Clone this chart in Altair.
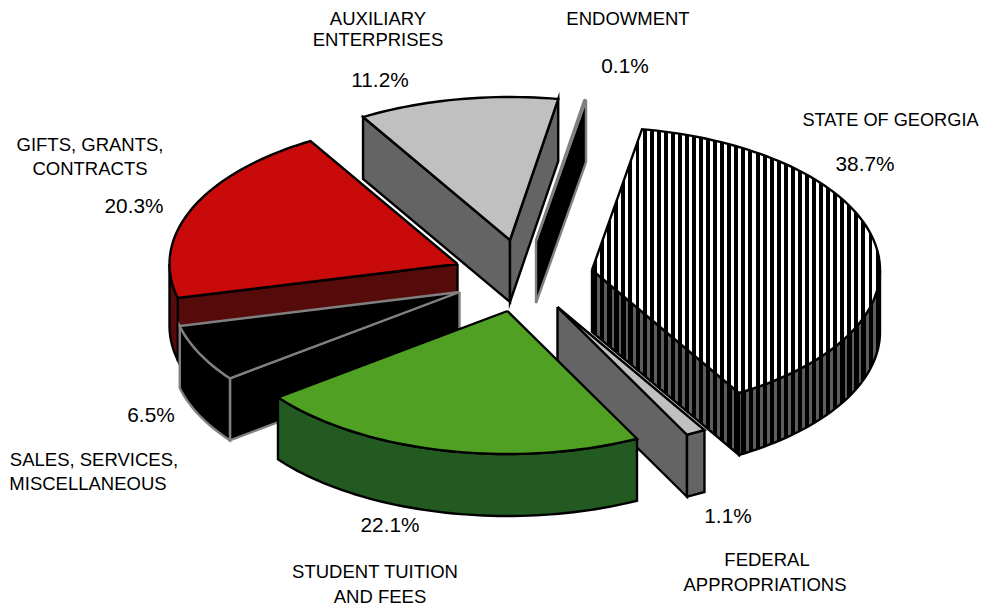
import math
import altair as alt
import pandas as pd

# ---- values ----
categories = ["STATE OF GEORGIA", "FEDERAL APPROPRIATIONS", "STUDENT TUITION AND FEES",
              "SALES, SERVICES, MISCELLANEOUS", "GIFTS, GRANTS, CONTRACTS",
              "AUXILIARY ENTERPRISES", "ENDOWMENT"]
shares = [38.7, 1.1, 22.1, 6.5, 20.3, 11.2, 0.1]
pct_labels = ["38.7%", "1.1%", "22.1%", "6.5%", "20.3%", "11.2%", "0.1%"]
label_lines = [["STATE OF GEORGIA"], ["FEDERAL", "APPROPRIATIONS"], ["STUDENT TUITION", "AND FEES"],
               ["SALES, SERVICES,", "MISCELLANEOUS"], ["GIFTS, GRANTS,", "CONTRACTS"],
               ["AUXILIARY", "ENTERPRISES"], ["ENDOWMENT"]]

# ---- layout (projection of the exploded 3-D pie) ----
W, H = 971, 598
RX, RY, DEPTH = 288, 143, 62
START = -80.0
apex = {0: (592, 270), 1: (557.5, 307), 2: (507.5, 311), 3: (459.5, 292), 4: (457.5, 264), 5: (510, 240), 6: (536, 241)}
HATCH = "hatch"
style = {
    0: dict(top=HATCH, wall="hatchdark", stroke="#000000"),
    1: dict(top="#c0c0c0", wall="#646464", stroke="#000000"),
    2: dict(top="#50a024", wall="#225a22", stroke="#000000"),
    3: dict(top="#000000", wall="#000000", stroke="#808080"),
    4: dict(top="#c80a0a", wall="#560b0b", stroke="#000000"),
    5: dict(top="#c0c0c0", wall="#646464", stroke="#000000"),
    6: dict(top="#000000", wall="#000000", stroke="#808080"),
}
pct_pos = {0: (865, 165), 1: (728, 517), 2: (390, 526), 3: (151, 416), 4: (134, 207), 5: (380, 81), 6: (625, 67)}
line_pos = {0: [(890.5, 121)], 1: [(767, 560), (765, 585)], 2: [(375, 572), (380, 597)],
            3: [(94, 460), (88, 484)], 4: [(90, 145), (90, 169)], 5: [(378, 18.5), (378, 40)], 6: [(628, 19)]}
PERIOD = 7.06
PHASE = 642.6
xscale = alt.Scale(domain=[8, 8 + W], range=[0, W])
yscale = alt.Scale(domain=[8 + H, 8], range=[H, 0])


def stripes(xs, c1, c2, frac):
    x0, x1 = min(xs), max(xs)
    span = max(x1 - x0, 1e-6)
    stops = []
    k = math.floor((x0 - PHASE) / PERIOD)
    while PHASE + k * PERIOD < x1:
        a = PHASE + k * PERIOD
        for pos, col in ((a, c1), (a + PERIOD * frac, c1), (a + PERIOD * frac, c2), (a + PERIOD, c2)):
            off = min(max((pos - x0) / span, 0), 1)
            stops.append(alt.GradientStop(offset=off, color=col))
        k += 1
    return alt.LinearGradient(gradient="linear", x1=0, y1=0, x2=1, y2=0, stops=stops)


def paint(kind, xs):
    if kind == "hatch":
        return stripes(xs, "#000000", "#ffffff", 0.56)
    if kind == "hatchdark":
        return stripes(xs, "#000000", "#5e5e5e", 0.6)
    return kind


def poly(pts, fill, stroke, join="miter", width=2.4):
    pts = list(pts) + [pts[0]]
    df = pd.DataFrame({"x": [p[0] for p in pts], "y": [p[1] for p in pts], "i": range(len(pts))})
    return alt.Chart(df).mark_line(
        fill=paint(fill, [p[0] for p in pts]), stroke=stroke, strokeWidth=width,
        strokeJoin=join, strokeMiterLimit=10,
    ).encode(
        x=alt.X("x:Q", scale=xscale, axis=None),
        y=alt.Y("y:Q", scale=yscale, axis=None),
        order="i:Q",
    )


angles = [START]
for s in shares:
    angles.append(angles[-1] + s / sum(shares) * 360)

layers = []
for idx in [0, 6, 5, 4, 3, 1, 2]:
    t0, t1 = angles[idx], angles[idx + 1]
    ax, ay = apex[idx]
    st = style[idx]
    join = "bevel" if idx == 6 else "miter"
    rim = lambda t: (ax + RX * math.cos(math.radians(t)), ay + RY * math.sin(math.radians(t)))
    down = lambda p: (p[0], p[1] + DEPTH)
    def arc(a, b):
        n = max(int(abs(b - a) / 1.5), 1)
        return [rim(a + (b - a) * j / n) for j in range(n + 1)]
    A = (ax, ay)
    walls = []
    if math.cos(math.radians(t0)) < 0:
        p = rim(t0)
        walls.append([A, p, down(p), down(A)])
    if math.cos(math.radians(t1)) > 0:
        p = rim(t1)
        walls.append([A, p, down(p), down(A)])
    for w in walls:
        layers.append(poly(w, st["wall"], st["stroke"], join))
    # outer wall: part of the rim facing the viewer (0..180 degrees)
    a0, a1 = t0, t1
    if a0 >= 180:
        a0 -= 360
        a1 -= 360
    a, b = max(a0, 0), min(a1, 180)
    if b > a:
        top_arc = arc(a, b)
        layers.append(poly(top_arc + [down(p) for p in reversed(top_arc)], st["wall"], st["stroke"], join))
    layers.append(poly([A] + arc(t0, t1), st["top"], st["stroke"], join))

rows = []
for i in range(len(categories)):
    x, y = pct_pos[i]
    rows.append(dict(x=x, y=y, t=pct_labels[i], k="p"))
    for line, (x, y) in zip(label_lines[i], line_pos[i]):
        rows.append(dict(x=x, y=y, t=line, k="s" if i == 0 else "l"))
tx = pd.DataFrame(rows)
for k, size in (("p", 20.8), ("l", 18.5), ("s", 18.2)):
    layers.append(
        alt.Chart(tx[tx.k == k]).mark_text(font="Liberation Sans", fontSize=size, color="#000000",
                                           align="center", baseline="middle").encode(
            x=alt.X("x:Q", scale=xscale, axis=None),
            y=alt.Y("y:Q", scale=yscale, axis=None),
            text="t:N",
        )
    )

chart = alt.layer(*layers).properties(
    width=W, height=H, padding=0, autosize=alt.AutoSizeParams(type="none"),
    background="#ffffff",
).configure_view(stroke=None)
chart.save("out.html", embed_options={"renderer": "svg", "actions": False})
